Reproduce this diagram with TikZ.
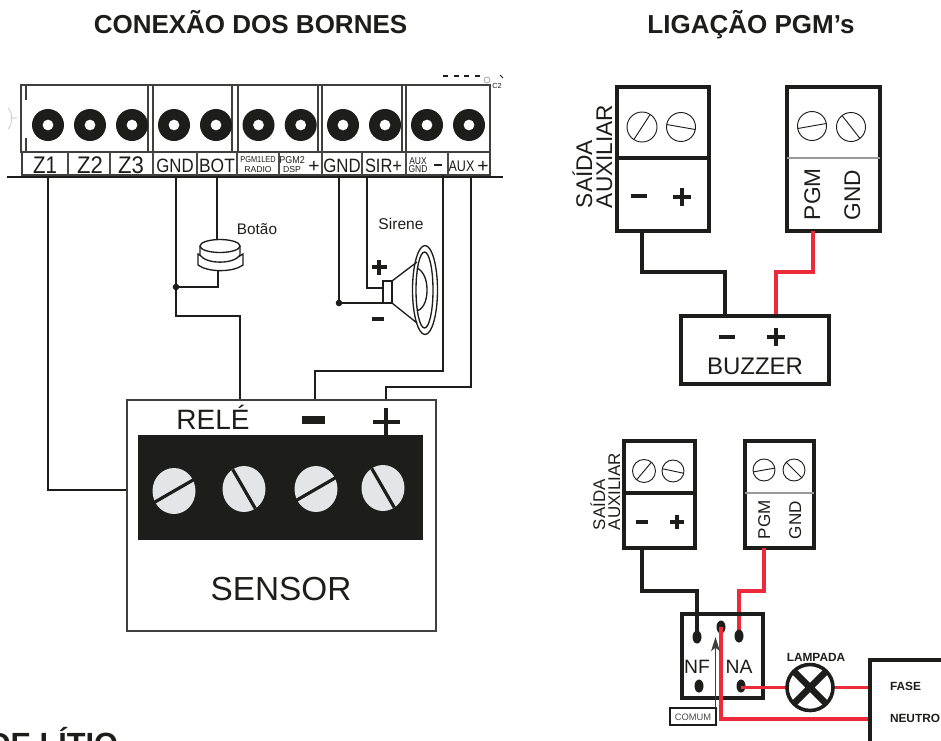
\documentclass[tikz,border=0pt]{standalone}
\usepackage{fontspec}
\setmainfont{Liberation Sans}
\usetikzlibrary{arrows.meta,calc}
\definecolor{ink}{HTML}{1D1D1B}
\definecolor{redw}{HTML}{ED2A3A}
\definecolor{screwfill}{HTML}{E3E5E6}
\tikzset{
  txt/.style={inner sep=0pt,outer sep=0pt,text=ink},
  wire/.style={draw=ink,line width=1pt},
  panelbox/.style={draw=ink,line width=2.7pt},
  wireK/.style={draw=ink,line width=2.7pt},
  wireR/.style={draw=redw,line width=2.7pt},
  thinsep/.style={draw=gray!80,line width=.8pt},
  termline/.style={draw=ink!85,line width=1.2pt},
  hole/.style={fill=ink},
}
\newcommand{\fsz}[1]{\fontsize{#1}{#1}\selectfont}
\newcommand{\screwc}[4]{%
  \draw[ink,line width=.7pt] (#1,#2) circle (#3);
  \draw[ink,line width=.7pt] ($(#1,#2)+({-(#4)}:#3)$) -- ($(#1,#2)+({180-(#4)}:#3)$);}
\newcommand{\plusm}[3]{\draw[ink,line width=2.3pt] (#1-#3,#2) -- (#1+#3,#2) (#1,#2-#3) -- (#1,#2+#3);}
\newcommand{\minusm}[3]{\draw[ink,line width=2.6pt] (#1-#3,#2) -- (#1+#3,#2);}
\newcommand{\sscrew}[5]{%
  \fill[screwfill] (#1,#2) ellipse [x radius=#3,y radius=#4];
  \draw[ink,line width=2.4pt] ($(#1,#2)+({-(#5)}:#3+1)$) -- ($(#1,#2)+({180-(#5)}:#3+1)$);}
\newcommand{\tl}[6]{\node[txt,anchor=base] (#1) at (#2,#3) {\fsz{#4}\scalebox{#5}[1]{#6}};}
\begin{document}
\begin{tikzpicture}[x=.75pt,y=-.75pt]
\useasboundingbox (0,0) rectangle (941,740);
% titles
\node[txt,anchor=base] (t1) at (250.5,33) {\fsz{19.5pt}\bfseries CONEXÃO DOS BORNES};
\node[txt,anchor=base] (t2) at (751,33) {\fsz{19.5pt}\bfseries LIGAÇÃO PGM’s};
\node[txt,anchor=base east] (t3) at (118,754) {\fsz{23pt}\bfseries DE LÍTIO};
% terminal block
\draw[termline] (21,85) rectangle (490,152);
\draw[termline] (22,152) rectangle (490,175);
\draw[termline] (26,85) -- (26,100) (26,138) -- (26,152);
\foreach \a/\b in {148/153,232/238,318/322,402/406} {
  \draw[termline] (\a,85) -- (\a,152) (\b,85) -- (\b,152);
}
\foreach \a in {68,110,153,197,237,279,322,362,406,448} {
  \draw[line width=.8pt,ink!80] (\a,152) -- (\a,175);
}
\draw[line width=1pt,ink] (7,177) -- (503,177);
\foreach \x in {48,90,132,174,216,258.5,300.7,343,385,427,469} {
  \fill[hole,even odd rule] (\x,125) circle (16) (\x,125) circle (5.5);
}
% decorative left and top-right marks
\draw[gray!55,line width=.4pt] (8,108) .. controls (13,112) and (13,124) .. (8,129) (11,118) -- (17,118);
\draw[ink,line width=2pt,dash pattern=on 3.75pt off 4.2pt] (443,76) -- (481,76);
\draw[gray!80,line width=.5pt] (487,80) circle (3);
\draw[ink,line width=.7pt] (500,75) -- (503,78);
\node[txt,anchor=base] (c2) at (497,88) {\fsz{5.5pt}C2};
% terminal labels
\tl{z1}{45}{173}{18pt}{.85}{Z1}
\tl{z2}{90}{173}{18pt}{.92}{Z2}
\tl{z3}{131}{173}{18pt}{.92}{Z3}
\tl{lgnd}{175}{172.5}{14.5pt}{.87}{GND}
\tl{lbot}{217}{172.5}{14.5pt}{.9}{BOT}
\tl{lpa}{258}{162}{6.5pt}{.85}{PGM1LED}
\tl{lpb}{258}{172}{6.5pt}{1}{RADIO}
\tl{lpc}{292}{163}{7.5pt}{.9}{PGM2}
\tl{lpd}{292}{172.5}{6.5pt}{1}{DSP}
\tl{lpp}{314}{172.5}{14.5pt}{1}{+}
\tl{lgn2}{342}{172.5}{14.5pt}{.87}{GND}
\tl{lsir}{383.5}{172.5}{14.5pt}{.85}{SIR+}
\tl{lax}{418}{164}{7.5pt}{.85}{AUX}
\tl{lgx}{418}{172.5}{7.5pt}{.85}{GND}
\draw[ink,line width=1.1pt] (434,165) -- (442,165);
\tl{lau}{461.5}{171.5}{11.5pt}{.82}{AUX}
\tl{lap}{483}{172.5}{14.5pt}{1}{+}
% named connector ends
\coordinate (tZ1) at (48,177);
\coordinate (tGND) at (176,177);
\coordinate (tBOT) at (217,177);
\coordinate (tGN2) at (339,177);
\coordinate (tSIR) at (367,177);
\coordinate (tAUM) at (443,175);
\coordinate (tAUP) at (471,177);
\coordinate (jA) at (176,287);
\coordinate (jB) at (339,303);
\coordinate (sL) at (127,490);
\coordinate (sRel) at (240,400);
\coordinate (sMin) at (315,400);
\coordinate (sPlu) at (386,400);
\coordinate (btnT) at (217,242);
\coordinate (btnB) at (218,270);
\coordinate (spkA) at (383,288);
\coordinate (spkB) at (383,303);
% wires left
\draw[wire] (tZ1) |- (sL);
\draw[wire] (tGND) -- (jA) -- (176,316) -| (sRel);
\draw[wire] (tBOT) -- (btnT);
\draw[wire] (btnB) |- (jA);
\draw[wire] (tGN2) -- (jB) -- (spkB);
\draw[wire] (tSIR) |- (spkA);
\draw[wire] (tAUM) -- (443,371) -| (sMin);
\draw[wire] (tAUP) -- (471,387) -| (sPlu);
\fill[ink] (jA) circle (3.3);
\fill[ink] (jB) circle (3.3);
% button
\draw[ink,line width=1pt,fill=white] (198,254) -- (198,265) .. controls (208,272.5) and (233,272.5) .. (243,265) -- (243,254)
   .. controls (233,262) and (208,262) .. (198,254) -- cycle;
\draw[ink,line width=1pt,fill=white] (200,246) -- (200,255) .. controls (206,264.5) and (234,264.5) .. (240,255) -- (240,246);
\draw[ink,line width=1pt,fill=white] (220,246) ellipse [x radius=20,y radius=6.5];
\node[txt,anchor=base] (botao) at (257,234) {\fsz{11.5pt}Botão};
% speaker
\draw[ink,line width=1pt,fill=white] (383,281) rectangle (392,303);
\draw[ink,line width=1pt] (392,281) -- (417,262) (392,303) -- (417,323);
\draw[ink,line width=1pt] (425,290) ellipse [x radius=12.5,y radius=44.5];
\draw[ink,line width=1pt] (424.5,290) ellipse [x radius=8.5,y radius=38];
\draw[ink,line width=1pt] (417,268) .. controls (425,272) and (427,282) .. (427,290) .. controls (427,298) and (425,308) .. (417,311);
\node[txt,anchor=base] (sirene) at (401,229) {\fsz{11.7pt}Sirene};
\plusm{379}{267}{7.5}
\minusm{378}{319}{6}
% sensor
\draw[ink!85,line width=1.2pt] (127,400) rectangle (436,631);
\fill[ink] (138,435) rectangle (423,540);
\sscrew{174}{491}{21.5}{23}{30}
\sscrew{244}{489}{21.5}{23}{-60}
\sscrew{316}{489}{21.5}{23}{30}
\sscrew{383}{488}{21.5}{23}{-60}
\node[txt,anchor=base] (rele) at (213,429) {\fsz{21pt}RELÉ};
\draw[ink,line width=6pt] (302,419.5) -- (325,419.5);
\draw[ink,line width=3.5pt] (373,422) -- (400,422) (386,408) -- (386,436);
\node[txt,anchor=base] (sensor) at (281,600) {\fsz{25pt}SENSOR};
% panel 1
\draw[panelbox] (617,87) rectangle (709,231);
\draw[panelbox] (617,158) -- (709,158);
\screwc{642}{127}{15}{57}
\screwc{681}{127}{14.5}{-10}
\minusm{639}{196}{8}
\plusm{682}{197}{9}
\node[txt,rotate=90,anchor=base west] (sa1) at (592,208) {\fsz{17pt}SAÍDA};
\node[txt,rotate=90,anchor=base west] (au1) at (612,208) {\fsz{17pt}AUXILIAR};
\draw[panelbox] (787,87) rectangle (880,231);
\draw[thinsep] (787,158) -- (880,158);
\screwc{812}{126}{14.5}{10}
\screwc{851}{127}{14.5}{-52}
\node[txt,rotate=90,anchor=base west] (pg1) at (820,220) {\fsz{17pt}PGM};
\node[txt,rotate=90,anchor=base west] (gn1) at (860,220) {\fsz{17pt}GND};
\coordinate (bM) at (642,231);
\coordinate (bP) at (813,231);
\coordinate (zM) at (725,316);
\coordinate (zP) at (776,316);
\draw[wireK,line join=miter] (bM) -- (642,272) -| (zM);
\draw[wireR,line join=miter] (bP) -- (813,272) -| (zP);
\draw[panelbox] (681,316) rectangle (829,384);
\minusm{727}{337}{8}
\plusm{776}{337}{9}
\node[txt,anchor=base] (buzz) at (755,374.5) {\fsz{18pt}BUZZER};
% panel 2
\draw[panelbox] (624,441) rectangle (695,548);
\draw[panelbox] (624,493) -- (695,493);
\screwc{644}{471}{11.5}{50}
\screwc{673}{471}{11}{-12}
\minusm{642}{522}{6}
\plusm{677}{522}{7}
\node[txt,rotate=90,anchor=base west] (sa2) at (605,530) {\fsz{12.7pt}SAÍDA};
\node[txt,rotate=90,anchor=base west] (au2) at (620,530) {\fsz{12.7pt}AUXILIAR};
\draw[panelbox] (745,441) rectangle (814,548);
\draw[thinsep] (745,493) -- (814,493);
\screwc{764}{470}{11}{10}
\screwc{794}{470}{11}{-45}
\node[txt,rotate=90,anchor=base west] (pg2) at (770,539) {\fsz{12.8pt}PGM};
\node[txt,rotate=90,anchor=base west] (gn2) at (801,539) {\fsz{12.8pt}GND};
\coordinate (cM) at (642,548);
\coordinate (cP) at (764,548);
\coordinate (rNF) at (697,637);
\coordinate (rNA) at (739,636);
\coordinate (rC) at (721,627);
\coordinate (rO) at (741,687.5);
\coordinate (pF) at (870,687.5);
\coordinate (pN) at (870,719);
\coordinate (lamp) at (810,687.5);
\draw[wireK,line join=miter] (cM) -- (642,591) -| (rNF);
\draw[wireR,line join=miter] (cP) -- (764,591) -| (rNA);
% relay
\draw[panelbox] (682,614) rectangle (763,698);
\fill[ink] (rNF) ellipse [x radius=4.5,y radius=6.5];
\fill[ink] (rNA) ellipse [x radius=4.5,y radius=6.5];
\fill[ink] (rC) ellipse [x radius=4.5,y radius=6.5];
\fill[ink] (699,686) ellipse [x radius=4.5,y radius=6.5];
\fill[ink] (741,686) ellipse [x radius=4.5,y radius=6.5];
\node[txt,anchor=base] (nf) at (697,673.5) {\fsz{14.5pt}NF};
\node[txt,anchor=base] (na) at (739,673.5) {\fsz{14.5pt}NA};
\draw[wireR,line join=miter] (rC) |- (pN);
\draw[wireR] (rO) -- (lamp);
\draw[wireR] (lamp) -- (pF);
% comum
\draw[ink,line width=1.1pt] (670,708) rectangle (716,725);
\node[txt,anchor=center,text=ink!80] (comum) at (693,717) {\fsz{7pt}COMUM};
\coordinate (cmA) at (715.5,708);
\draw[ink!85,line width=.8pt,-{Stealth[length=10.5pt,width=6.5pt,inset=2.5pt]}] (cmA) -- (715.5,637);
% lamp
\draw[ink,line width=2.7pt,fill=white] (lamp) circle (23);
\draw[ink,line width=5pt] ($(lamp)+(-16,-16)$) -- ($(lamp)+(16,16)$) ($(lamp)+(-16,16)$) -- ($(lamp)+(16,-16)$);
\node[txt,anchor=base] (lampt) at (816,661) {\fsz{8.9pt}\bfseries LAMPADA};
% mains box
\draw[panelbox] (870,750) -- (870,660) -- (950,660);
\node[txt,anchor=base west] (fase) at (890,690) {\fsz{8.9pt}\bfseries FASE};
\node[txt,anchor=base west] (neutro) at (890,722) {\fsz{8.9pt}\bfseries NEUTRO};
\end{tikzpicture}
\end{document}
